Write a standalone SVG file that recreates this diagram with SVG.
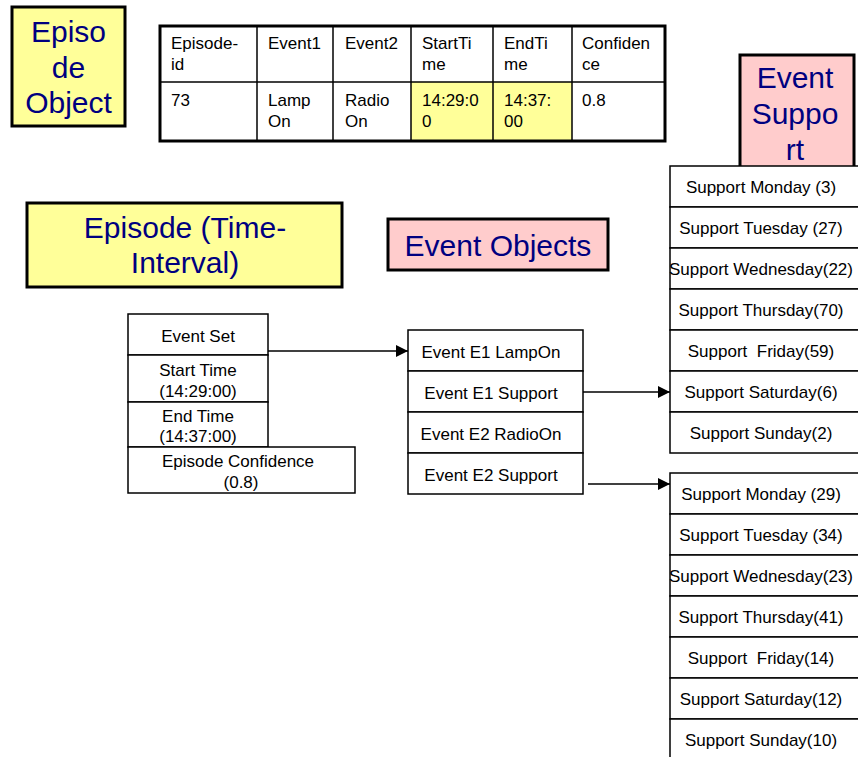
<svg xmlns="http://www.w3.org/2000/svg" width="858" height="757" viewBox="0 0 858 757">
  <style>
    .title { fill: #ffff99; stroke: #000; stroke-width: 3; }
    .titlePink { fill: #ffcccc; stroke: #000; stroke-width: 3; }
    .big { font-family: "Liberation Sans", Arial, sans-serif; font-size: 30px; fill: #000080; text-anchor: middle; }
    .cell { fill: #fff; stroke: #000; stroke-width: 1.5; }
    .t { font-family: "Liberation Sans", Arial, sans-serif; font-size: 17px; fill: #000; }
    .c { text-anchor: middle; }
    .conn { stroke: #000; stroke-width: 1.5; fill: none; marker-end: url(#arrow); }
  </style>
  <defs>
    <marker id="arrow" markerUnits="userSpaceOnUse" markerWidth="12" markerHeight="12" refX="12" refY="6" orient="auto">
      <path d="M0,0 L12,6 L0,12 z" fill="#000"/>
    </marker>
  </defs>
  <rect width="858" height="757" fill="#fff"/>

  <!-- Episode Object label -->
  <g id="episode-object-label">
    <rect class="title" x="12" y="7" width="113" height="119"/>
    <text class="big" x="68.5" y="42">Episo</text>
    <text class="big" x="68.5" y="78">de</text>
    <text class="big" x="68.5" y="113">Object</text>
  </g>

  <!-- Episode table -->
  <g id="episode-table">
    <rect x="411" y="82" width="82" height="59" fill="#ffff99"/>
    <rect x="493" y="82" width="79" height="59" fill="#ffff99"/>
    <g stroke="#000" stroke-width="1.5">
      <line x1="159" y1="82" x2="665" y2="82"/>
      <line x1="257" y1="25" x2="257" y2="141"/>
      <line x1="333" y1="25" x2="333" y2="141"/>
      <line x1="411" y1="25" x2="411" y2="141"/>
      <line x1="493" y1="25" x2="493" y2="141"/>
      <line x1="572" y1="25" x2="572" y2="141"/>
    </g>
    <rect x="160" y="26" width="505" height="115" fill="none" stroke="#000" stroke-width="3"/>
    <g class="t">
      <text x="171" y="49">Episode-</text><text x="171" y="70">id</text>
      <text x="268" y="49">Event1</text>
      <text x="345" y="49">Event2</text>
      <text x="422" y="49">StartTi</text><text x="422" y="70">me</text>
      <text x="504" y="49">EndTi</text><text x="504" y="70">me</text>
      <text x="582" y="49">Confiden</text><text x="582" y="70">ce</text>
      <text x="171" y="106">73</text>
      <text x="268" y="106">Lamp</text><text x="268" y="127">On</text>
      <text x="345" y="106">Radio</text><text x="345" y="127">On</text>
      <text x="422" y="106">14:29:0</text><text x="422" y="127">0</text>
      <text x="504" y="106">14:37:</text><text x="504" y="127">00</text>
      <text x="582" y="106">0.8</text>
    </g>
  </g>

  <!-- Event Support label -->
  <g id="event-support-label">
    <rect class="titlePink" x="740" y="55" width="114" height="118"/>
    <text class="big" x="795" y="88">Event</text>
    <text class="big" x="795" y="124">Suppo</text>
    <text class="big" x="795" y="160">rt</text>
  </g>

  <!-- Episode (Time-Interval) label -->
  <g id="episode-interval-label">
    <rect class="title" x="27" y="203" width="315" height="84"/>
    <text class="big" x="185" y="238">Episode (Time-</text>
    <text class="big" x="185" y="273">Interval)</text>
  </g>

  <!-- Event Objects label -->
  <g id="event-objects-label">
    <rect class="titlePink" x="388" y="219" width="220" height="51"/>
    <text class="big" x="498" y="256">Event Objects</text>
  </g>

  <!-- Episode record -->
  <g id="episode-record">
    <rect class="cell" x="128" y="314" width="140" height="41"/>
    <rect class="cell" x="128" y="355" width="140" height="47"/>
    <rect class="cell" x="128" y="402" width="140" height="45"/>
    <rect class="cell" x="128" y="447" width="227" height="46"/>
    <g class="t c">
      <text x="198" y="342">Event Set</text>
      <text x="198" y="376">Start Time</text>
      <text x="198" y="397">(14:29:00)</text>
      <text x="198" y="422">End Time</text>
      <text x="198" y="442">(14:37:00)</text>
      <text x="238" y="467">Episode Confidence</text>
      <text x="241" y="488">(0.8)</text>
    </g>
  </g>

  <!-- Event objects record -->
  <g id="event-objects">
    <rect class="cell" x="408" y="330" width="175" height="41"/>
    <rect class="cell" x="408" y="371" width="175" height="41"/>
    <rect class="cell" x="408" y="412" width="175" height="41"/>
    <rect class="cell" x="408" y="453" width="175" height="41"/>
    <g class="t c">
      <text x="491" y="358">Event E1 LampOn</text>
      <text x="491" y="399">Event E1 Support</text>
      <text x="491" y="440">Event E2 RadioOn</text>
      <text x="491" y="481">Event E2 Support</text>
    </g>
  </g>

  <!-- Support values for E1 -->
  <g id="support-e1">
    <rect class="cell" x="670" y="166" width="192" height="41"/>
    <rect class="cell" x="670" y="207" width="192" height="41"/>
    <rect class="cell" x="670" y="248" width="192" height="41"/>
    <rect class="cell" x="670" y="289" width="192" height="41"/>
    <rect class="cell" x="670" y="330" width="192" height="41"/>
    <rect class="cell" x="670" y="371" width="192" height="41"/>
    <rect class="cell" x="670" y="412" width="192" height="41"/>
    <g class="t c">
      <text x="761" y="193">Support Monday (3)</text>
      <text x="761" y="234">Support Tuesday (27)</text>
      <text x="761" y="275">Support Wednesday(22)</text>
      <text x="761" y="316">Support Thursday(70)</text>
      <text x="761" y="357" style="white-space:pre">Support  Friday(59)</text>
      <text x="761" y="398">Support Saturday(6)</text>
      <text x="761" y="439">Support Sunday(2)</text>
    </g>
  </g>

  <!-- Support values for E2 -->
  <g id="support-e2">
    <rect class="cell" x="670" y="473" width="192" height="41"/>
    <rect class="cell" x="670" y="514" width="192" height="41"/>
    <rect class="cell" x="670" y="555" width="192" height="41"/>
    <rect class="cell" x="670" y="596" width="192" height="41"/>
    <rect class="cell" x="670" y="637" width="192" height="41"/>
    <rect class="cell" x="670" y="678" width="192" height="41"/>
    <rect class="cell" x="670" y="719" width="192" height="41"/>
    <g class="t c">
      <text x="761" y="500">Support Monday (29)</text>
      <text x="761" y="541">Support Tuesday (34)</text>
      <text x="761" y="582">Support Wednesday(23)</text>
      <text x="761" y="623">Support Thursday(41)</text>
      <text x="761" y="664" style="white-space:pre">Support  Friday(14)</text>
      <text x="761" y="705">Support Saturday(12)</text>
      <text x="761" y="746">Support Sunday(10)</text>
    </g>
  </g>

  <!-- Connectors -->
  <g id="connectors">
    <line class="conn" x1="268" y1="351" x2="408" y2="351"/>
    <line class="conn" x1="583" y1="392" x2="670" y2="392"/>
    <line class="conn" x1="588" y1="484" x2="670" y2="484"/>
  </g>
</svg>
